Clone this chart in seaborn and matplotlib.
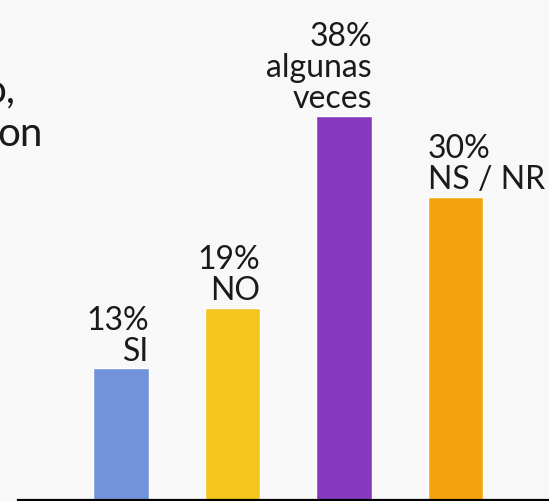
import matplotlib
matplotlib.use("Agg")
import matplotlib.pyplot as plt
import seaborn as sns
import pandas as pd

# data
categories = ["SI", "NO", "algunas veces", "NS / NR"]
values = [13, 19, 38, 30]
bar_labels = ["13%\nSI", "19%\nNO", "38%\nalgunas\nveces", "30%\nNS / NR"]
label_align = ["right", "right", "right", "left"]
colors = ["#7193d9", "#f4c41f", "#8638be", "#f4a30c"]

sns.set_theme(style="white")
plt.rcParams["font.family"] = ["Lato", "DejaVu Sans"]

bg = "#f8f8f8"
fig = plt.figure(figsize=(5.49, 5.02), dpi=100, facecolor=bg)
ax = fig.add_axes([18 / 549, 1.5 / 502, 1 - 18 / 549, 1 - 1.5 / 502])
ax.set_facecolor(bg)

df = pd.DataFrame({"cat": categories, "val": values})
sns.barplot(data=df, x="cat", y="val", hue="cat", palette=colors,
            width=0.5, legend=False, ax=ax, saturation=1)

ax.set_xlim(-0.924, 3.839)
ax.set_ylim(0, 500.5 / 10.1)

for i, (v, txt, ha) in enumerate(zip(values, bar_labels, label_align)):
    x = i + 0.25 if ha == "right" else i - 0.25
    ax.annotate(txt, xy=(x, v), xytext=(0, 6), textcoords="offset points",
                ha=ha, va="baseline", fontsize=23, color="#1a1a1a",
                linespacing=1.05, multialignment=ha)

# cut-off title text at the left edge
fig.text(15 / 549, 1 - 102 / 502, "o,", ha="right", va="baseline",
         fontsize=29, color="#1a1a1a")
fig.text(43 / 549, 1 - 146 / 502, "on", ha="right", va="baseline",
         fontsize=29, color="#1a1a1a")

for s in ["top", "right", "left"]:
    ax.spines[s].set_visible(False)
ax.spines["bottom"].set_color("black")
ax.spines["bottom"].set_linewidth(2.3)
ax.set_xticks([])
ax.set_yticks([])
ax.set_xlabel("")
ax.set_ylabel("")

fig.savefig("out.png", dpi=100, facecolor=bg)
